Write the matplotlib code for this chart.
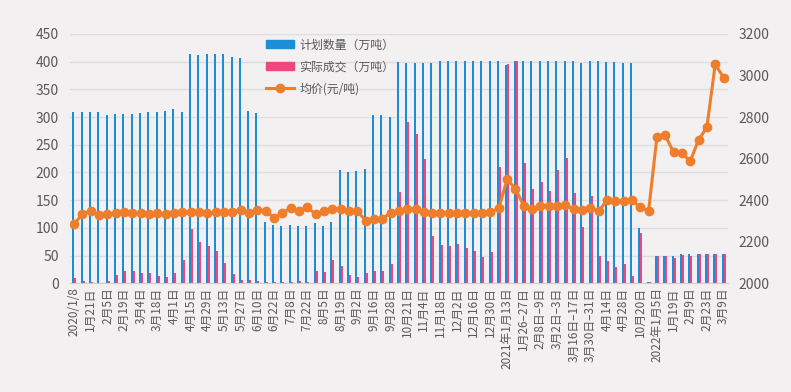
import numpy as np
import matplotlib
matplotlib.use('Agg')
import matplotlib.pyplot as plt
from matplotlib.lines import Line2D
from matplotlib.patches import Patch

plt.rcParams['font.family'] = ['Noto Sans CJK SC', 'DejaVu Sans']

# Category tick labels (every other auction is labelled)
tick_labels = [
    '2020/1/8', '1月21日', '2月5日', '2月19日', '3月4日', '3月18日', '4月1日',
    '4月15日', '4月29日', '5月13日', '5月27日', '6月10日', '6月22日', '7月8日',
    '7月22日', '8月5日', '8月19日', '9月2日', '9月16日', '9月28日', '10月21日',
    '11月4日', '11月18日', '12月2日', '12月16日', '12月30日', '2021年1月13日',
    '1月26–27日', '2月8日–9日', '3月2日–3日', '3月16日–17日', '3月30日–31日',
    '4月14日', '4月28日', '10月20日', '2022年1月5日', '1月19日', '2月9日',
    '2月23日', '3月9日',
]

# 计划数量（万吨）
plan = [
    310, 310, 310, 310, 304, 305, 306, 305, 308, 310, 310, 311, 314, 310,
    413, 412, 413, 414, 413, 409, 406, 311, 308,
    111, 106, 104, 106, 103, 103, 109, 104, 111,
    204, 201, 202, 206, 304, 303, 301,
    400, 397, 397, 398, 397, 401, 401, 402, 402, 401, 402, 402, 401, 394,
    401, 401, 401, 401, 402, 401, 401, 401, 398, 401, 401, 399, 400, 398, 398,
    100, 3, 49, 49, 49, 52, 52, 52, 52, 52, 52,
]

# 实际成交（万吨）
actual = [
    10, 5, 2, 1, 5, 15, 23, 22, 19, 19, 13, 12, 18, 42,
    98, 74, 67, 58, 36, 16, 6, 6, 4,
    2, 1.5, 2, 2, 5, 2, 22, 20, 42,
    31, 15, 11, 18, 22, 22, 35,
    164, 292, 269, 224, 85, 70, 67, 71, 64, 58, 48, 57, 210, 395,
    401, 218, 171, 182, 167, 204, 226, 163, 101, 158, 50, 40, 30, 35, 13,
    90, 2, 49, 49, 46, 51, 50, 52, 52, 52, 52,
]

# 均价（元/吨）
price = [
    2286, 2333, 2347, 2328, 2333, 2339, 2341, 2337, 2337, 2333, 2337, 2333,
    2338, 2342, 2341, 2341, 2339, 2342, 2345, 2344, 2352, 2336, 2355, 2348,
    2316, 2338, 2363, 2347, 2367, 2332, 2348, 2359, 2359, 2348, 2348, 2302,
    2310, 2310, 2340, 2350, 2356, 2356, 2342, 2336, 2339, 2339, 2340, 2339,
    2340, 2339, 2341, 2361, 2500, 2456, 2373, 2357, 2373, 2373, 2373, 2376,
    2356, 2353, 2363, 2347, 2400, 2397, 2394, 2399, 2366, 2350, 2705, 2712,
    2630, 2626, 2588, 2690, 2752, 3054, 2990,
]

BG = '#f2f0f0'
BLUE = '#1b8ed6'
PINK = '#f0457f'
ORANGE = '#ee7d2c'
TXT = '#595959'

x = np.arange(len(plan))

fig = plt.figure(figsize=(7.91, 3.92), dpi=100, facecolor=BG)
ax1 = fig.add_axes([0.0885, 0.2773, 0.8315, 0.636])
ax1.set_facecolor(BG)

w = 0.24
ax1.bar(x - 0.1, plan, width=w, color=BLUE, linewidth=0, antialiased=False, zorder=2)
ax1.bar(x + 0.14, actual, width=w, color=PINK, linewidth=0, antialiased=False, zorder=2)

ax1.set_xlim(-0.5, len(plan) - 0.5)
ax1.set_ylim(0, 450)
ax1.set_yticks(np.arange(0, 451, 50))
ax1.grid(axis='y', color='#dedcdc', linewidth=1, zorder=0)
ax1.set_xticks(x[::2])
ax1.set_xticklabels(tick_labels, rotation=90, fontsize=8.5, color=TXT)
ax1.tick_params(axis='y', labelsize=10, colors=TXT, length=0, pad=8)
ax1.tick_params(axis='x', length=0, pad=3)
for s in ['top', 'left', 'right']:
    ax1.spines[s].set_visible(False)
ax1.spines['bottom'].set_color('#d0cece')

ax2 = ax1.twinx()
ax2.plot(x, price, color=ORANGE, linewidth=2.2, marker='o', markersize=6, zorder=3)
ax2.set_ylim(2000, 3200)
ax2.set_yticks(np.arange(2000, 3201, 200))
ax2.tick_params(axis='y', labelsize=10, colors=TXT, length=0, pad=8)
for s in ['top', 'left', 'right', 'bottom']:
    ax2.spines[s].set_visible(False)

handles = [
    Patch(color=BLUE),
    Patch(color=PINK),
    Line2D([0], [0], color=ORANGE, linewidth=2.2, marker='o', markersize=6),
]
labels = ['计划数量（万吨）', '实际成交（万吨）', '均价(元/吨)']
leg = ax2.legend(handles, labels, loc='upper left', bbox_to_anchor=(0.336, 0.902),
                 bbox_transform=fig.transFigure, frameon=False, fontsize=8.6,
                 labelcolor=TXT, handlelength=2.35, handleheight=0.7,
                 labelspacing=0.75, handletextpad=0.45, borderpad=0, borderaxespad=0)
leg.set_zorder(10)

fig.savefig('out.png', dpi=100, facecolor=BG)
